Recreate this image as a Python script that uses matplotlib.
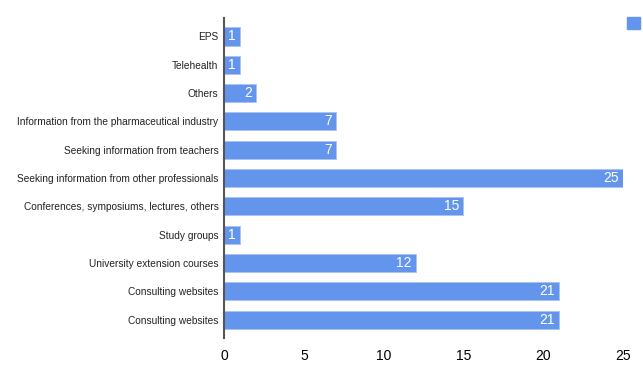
import matplotlib.pyplot as plt
from matplotlib.patches import Patch

plt.rcParams['font.family'] = ['Liberation Sans', 'DejaVu Sans']

# data (top to bottom)
categories = ['EPS', 'Telehealth', 'Others',
              'Information from the pharmaceutical industry',
              'Seeking information from teachers',
              'Seeking information from other professionals',
              'Conferences, symposiums, lectures, others',
              'Study groups', 'University extension courses',
              'Consulting websites', 'Consulting websites']
values = [1, 1, 2, 7, 7, 25, 15, 1, 12, 21, 21]
xticks = [0, 5, 10, 15, 20, 25]

bar_color = '#6495ED'

fig = plt.figure(figsize=(6.43, 3.76), dpi=100)
ax = fig.add_axes([0.3484, 0.101, 0.9689 - 0.3484, 0.851])

ypos = list(range(len(categories)))
ax.barh(ypos, values, height=0.64, color=bar_color, edgecolor='#a9c2f0', linewidth=0.6)

for y, v in zip(ypos, values):
    ax.text(v - 0.25, y, str(v), ha='right', va='center', color='white', fontsize=10)

ax.set_yticks(ypos)
ax.set_yticklabels(categories, fontsize=7.3, color='#222222')
ax.set_ylim(len(categories) - 1 + 0.65, -0.65)
ax.set_xlim(0, 25)
ax.set_xticks(xticks)
ax.set_xticklabels([str(t) for t in xticks], fontsize=10)
ax.tick_params(axis='both', length=0)
ax.tick_params(axis='x', pad=8)
ax.tick_params(axis='y', pad=4)

for s in ['top', 'right', 'bottom']:
    ax.spines[s].set_visible(False)
ax.spines['left'].set_color('#555555')
ax.spines['left'].set_linewidth(1.5)

ax.legend(handles=[Patch(color=bar_color)], labels=[''], loc='upper left',
          bbox_to_anchor=(627 / 643, 1 - 17 / 376), bbox_transform=fig.transFigure,
          frameon=False, handlelength=0.9, handleheight=0.9, borderpad=0,
          handletextpad=0, borderaxespad=0)

plt.savefig('out.png', dpi=100)
